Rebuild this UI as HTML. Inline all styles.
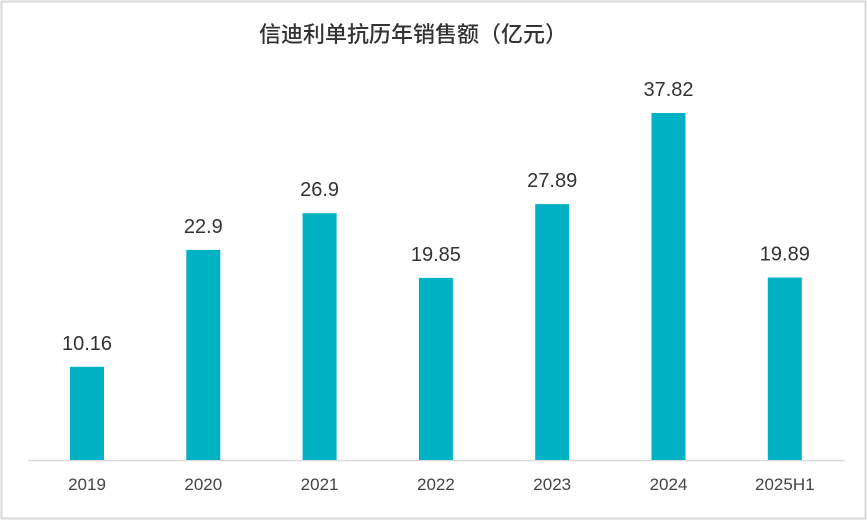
<!DOCTYPE html>
<html><head><meta charset="utf-8"><style>
body{margin:0;background:#fff;}
svg text{font-family:"Liberation Sans","Noto Sans CJK SC",sans-serif;}
</style></head><body>
<svg width="867" height="520">
<rect x="1.5" y="1.5" width="864" height="517" fill="#fff" stroke="#d9d9d9" stroke-width="2"/>
<text x="413" y="42" text-anchor="middle" font-size="22" font-weight="500" fill="#333">信迪利单抗历年销售额（亿元）</text>
<line x1="28" y1="460.5" x2="845" y2="460.5" stroke="#d9d9d9" stroke-width="1.5"/>
<g id="bars"></g>
</svg>
<script>
const categories=["2019","2020","2021","2022","2023","2024","2025H1"];
const values=[10.16,22.9,26.9,19.85,27.89,37.82,19.89];
const labels=["10.16","22.9","26.9","19.85","27.89","37.82","19.89"];
const base=460,scale=347/37.82,x0=87,step=116.3,bw=34;
const y=v=>base-v*scale, x=i=>x0+i*step;
const g=document.getElementById('bars');
const ns="http://www.w3.org/2000/svg";
categories.forEach((c,i)=>{
 const r=document.createElementNS(ns,'rect');
 r.setAttribute('x',x(i)-bw/2);r.setAttribute('y',y(values[i]));
 r.setAttribute('width',bw);r.setAttribute('height',base-y(values[i]));
 r.setAttribute('fill','#00b2c4');
 
 
 g.appendChild(r);
 const t=document.createElementNS(ns,'text');
 t.setAttribute('x',x(i));t.setAttribute('y',y(values[i])-17);
 t.setAttribute('text-anchor','middle');t.setAttribute('font-size','20');t.setAttribute('fill','#333');
 t.textContent=labels[i];
 
 
 g.appendChild(t);
 const l=document.createElementNS(ns,'text');
 l.setAttribute('x',x(i));l.setAttribute('y',490);
 l.setAttribute('text-anchor','middle');l.setAttribute('font-size','17');l.setAttribute('fill','#444');
 l.textContent=c;
 
 
 g.appendChild(l);
});
</script>
</body></html>
